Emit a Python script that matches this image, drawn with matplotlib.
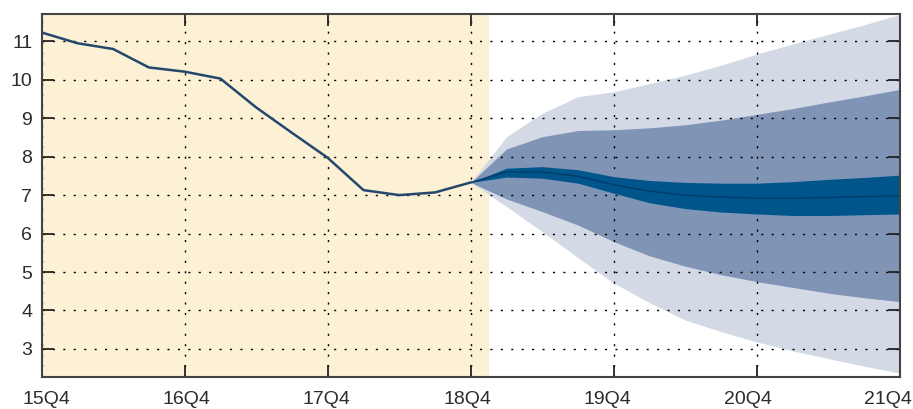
import matplotlib
matplotlib.use("Agg")
import matplotlib.pyplot as plt
import matplotlib.transforms as mtransforms
import numpy as np

plt.rcParams['font.family'] = ['Liberation Sans', 'DejaVu Sans']

# Historical series (quarters from 15Q4, index 0..12)
hist_values = [11.23, 10.95, 10.80, 10.32, 10.21, 10.03, 9.28, 8.62, 7.97, 7.13, 7.00, 7.07, 7.33]

# Forecast fan (index 12..24)
fc_median = [7.33, 7.60, 7.60, 7.49, 7.27, 7.10, 7.00, 6.95, 6.92, 6.92, 6.94, 6.96, 6.98]
fc_inner_hi = [7.33, 7.70, 7.74, 7.66, 7.48, 7.38, 7.33, 7.31, 7.31, 7.35, 7.41, 7.46, 7.52]
fc_inner_lo = [7.33, 7.47, 7.44, 7.31, 7.05, 6.80, 6.65, 6.56, 6.51, 6.47, 6.47, 6.49, 6.51]
fc_mid_hi = [7.33, 8.20, 8.52, 8.68, 8.70, 8.75, 8.83, 8.95, 9.10, 9.25, 9.42, 9.58, 9.75]
fc_mid_lo = [7.33, 6.90, 6.57, 6.22, 5.79, 5.42, 5.15, 4.93, 4.75, 4.60, 4.45, 4.33, 4.23]
fc_outer_hi = [7.33, 8.52, 9.13, 9.56, 9.69, 9.90, 10.12, 10.38, 10.67, 10.93, 11.18, 11.43, 11.70]
fc_outer_lo = [7.33, 6.70, 6.05, 5.37, 4.71, 4.20, 3.75, 3.45, 3.18, 2.95, 2.75, 2.55, 2.37]

tick_labels = ["15Q4", "16Q4", "17Q4", "18Q4", "19Q4", "20Q4", "21Q4"]
y_ticks = [3, 4, 5, 6, 7, 8, 9, 10, 11]

x_hist = np.arange(len(hist_values))
x_fc = np.arange(len(hist_values) - 1, len(hist_values) - 1 + len(fc_median))

fig = plt.figure(figsize=(9.13, 4.09), dpi=100)
ax = fig.add_axes([0.0455, 0.0782, 0.9403, 0.8876])

ax.axvspan(0, 12.52, color='#fcf0d5', zorder=0, lw=0)

ax.fill_between(x_fc, fc_outer_lo, fc_outer_hi, color='#d3dae6', lw=0, zorder=1)
ax.fill_between(x_fc, fc_mid_lo, fc_mid_hi, color='#8094b6', lw=0, zorder=2)
ax.fill_between(x_fc, fc_inner_lo, fc_inner_hi, color='#00558b', lw=0, zorder=3)
ax.plot(x_fc, fc_median, color='#003c68', lw=1.0, zorder=4)

ax.plot(x_hist, hist_values, color='#24486c', lw=1.8, zorder=5)

ax.set_xlim(0, 24)
ax.set_ylim(2.27, 11.71)
ax.set_xticks(np.arange(0, 25, 4))
ax.set_xticklabels(tick_labels)
ax.set_yticks(y_ticks)
ax.set_yticklabels([str(v) for v in y_ticks])

ax.grid(True, color='black', linestyle=(0, (1.5, 6)), lw=1.0, zorder=6)
ax.set_axisbelow(False)

ax.tick_params(axis='both', direction='in', length=8.5, width=1.3, color='#222222',
               labelsize=14, labelcolor='#2b2b2b')
ax.tick_params(axis='x', top=True, pad=10)
ax.tick_params(axis='y', right=True, pad=6.6)

# labels in the reference are spread slightly tighter than the ticks
for i, lab in enumerate(ax.get_xticklabels()):
    dx = (4.5 - 2.75 * i) / 100.0
    lab.set_transform(lab.get_transform() + mtransforms.ScaledTranslation(dx, 0, fig.dpi_scale_trans))

for sp in ax.spines.values():
    sp.set_color('#444444')
    sp.set_linewidth(1.5)
    sp.set_zorder(7)

fig.savefig('out.png', dpi=100)
